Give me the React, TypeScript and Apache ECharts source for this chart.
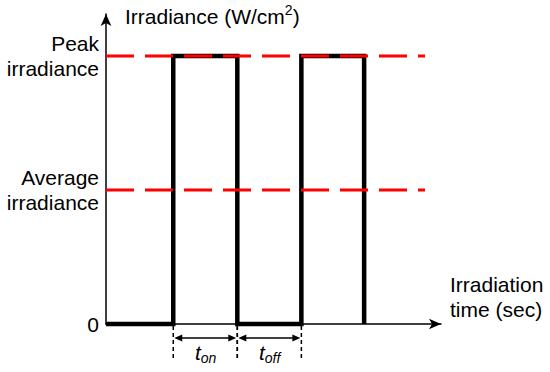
import React, { useEffect, useRef } from "react";
import * as echarts from "echarts";

// Square-wave irradiance (time in arbitrary units, irradiance relative to peak)
const waveTimes = [0, 1.05, 1.05, 2.05, 2.05, 3.05, 3.05, 4.03, 4.03];
const waveValues = [0, 0, 1, 1, 0, 0, 1, 1, 0];

const peakLevel = 1;
const averageLevel = 0.5;
const refLineEnd = 4.98;

const yTickValues = [0, 0.5, 1];
const yTickLabels = ["0", "Average\nirradiance", "Peak\nirradiance"];

// t_on / t_off intervals
const intervalStarts = [1.05, 2.05];
const intervalEnds = [2.05, 3.05];
const intervalSubs = ["on", "off"];

const FONT = "'Liberation Sans', Arial, sans-serif";

export default function App() {
  const ref = useRef<HTMLDivElement>(null);

  useEffect(() => {
    if (!ref.current) return;
    const chart = echarts.init(ref.current, null, { renderer: "svg" });

    const waveData = waveTimes.map((t, i) => [t, waveValues[i]]);
    const intervalData = intervalStarts.map((s, i) => [s, intervalEnds[i], i]);

    chart.setOption({
      animation: false,
      backgroundColor: "#ffffff",
      grid: { left: 106, top: 14, right: 109, bottom: 48, containLabel: false },
      xAxis: {
        type: "value",
        min: 0,
        max: 5.23,
        axisLine: {
          show: true,
          onZero: false,
          symbol: ["none", "arrow"],
          symbolSize: [8, 12],
          lineStyle: { color: "#000", width: 1.5 },
        },
        axisTick: { show: false },
        axisLabel: { show: false },
        splitLine: { show: false },
      },
      yAxis: {
        type: "value",
        min: 0,
        max: 1.157,
        interval: 0.5,
        axisLine: {
          show: true,
          onZero: false,
          symbol: ["none", "arrow"],
          symbolSize: [8, 12],
          lineStyle: { color: "#000", width: 1.5 },
        },
        axisTick: { show: false },
        splitLine: { show: false },
        axisLabel: {
          show: true,
          margin: 7,
          color: "#000",
          fontFamily: FONT,
          fontSize: 21,
          lineHeight: 25,
          align: "right",
          showMaxLabel: false,
          formatter: (v: number) => {
            const idx = yTickValues.findIndex((t) => Math.abs(t - v) < 1e-6);
            return idx >= 0 ? yTickLabels[idx] : "";
          },
        },
      },
      graphic: [
        {
          type: "text",
          left: 125,
          top: 3,
          style: {
            text: "Irradiance (W/cm{sup|2})",
            fill: "#000",
            font: `21px ${FONT}`,
            rich: {
              sup: { fontSize: 14, fontFamily: FONT, padding: [0, 0, 12, 0], fill: "#000" },
            },
          },
        },
        {
          type: "text",
          left: 450,
          top: 272,
          style: {
            text: "Irradiation\ntime (sec)",
            fill: "#000",
            font: `21px ${FONT}`,
            lineHeight: 25,
          },
        },
      ],
      series: [
        {
          type: "line",
          data: waveData,
          symbol: "none",
          clip: false,
          z: 3,
          lineStyle: { color: "#000", width: 4.5, join: "miter", cap: "butt" },
        },
        {
          type: "line",
          data: [
            [0, peakLevel],
            [refLineEnd, peakLevel],
          ],
          symbol: "none",
          clip: false,
          z: 4,
          lineStyle: { color: "#ff0000", width: 3, type: [28, 11] },
        },
        {
          type: "line",
          data: [
            [0, averageLevel],
            [refLineEnd, averageLevel],
          ],
          symbol: "none",
          clip: false,
          z: 4,
          lineStyle: { color: "#ff0000", width: 3, type: [28, 11] },
        },
        {
          type: "custom",
          clip: false,
          z: 5,
          data: intervalData,
          renderItem: (params: any, api: any) => {
            const s = api.value(0);
            const e = api.value(1);
            const idx = api.value(2);
            const p0 = api.coord([s, 0]);
            const p1 = api.coord([e, 0]);
            const y0 = p0[1];
            const ya = y0 + 14;
            const ah = 9;
            const aw = 3.5;
            const cx = (p0[0] + p1[0]) / 2;
            return {
              type: "group",
              children: [
                {
                  type: "line",
                  shape: { x1: p0[0], y1: y0 + 2, x2: p0[0], y2: y0 + 34 },
                  style: { stroke: "#000", lineWidth: 1.5, lineDash: [4, 3] },
                },
                {
                  type: "line",
                  shape: { x1: p1[0], y1: y0 + 2, x2: p1[0], y2: y0 + 34 },
                  style: { stroke: "#000", lineWidth: 1.5, lineDash: [4, 3] },
                },
                {
                  type: "line",
                  shape: { x1: p0[0] + ah - 1, y1: ya, x2: p1[0] - ah + 1, y2: ya },
                  style: { stroke: "#000", lineWidth: 1.5 },
                },
                {
                  type: "polygon",
                  shape: { points: [[p0[0] + 1, ya], [p0[0] + ah, ya - aw], [p0[0] + ah, ya + aw]] },
                  style: { fill: "#000" },
                },
                {
                  type: "polygon",
                  shape: { points: [[p1[0] - 1, ya], [p1[0] - ah, ya - aw], [p1[0] - ah, ya + aw]] },
                  style: { fill: "#000" },
                },
                {
                  type: "text",
                  x: cx - 4.5,
                  y: y0 + 28,
                  style: {
                    text: "t",
                    fill: "#000",
                    font: `italic 21px ${FONT}`,
                    align: "right",
                    verticalAlign: "middle",
                  },
                },
                {
                  type: "text",
                  x: cx - 4.5,
                  y: y0 + 34,
                  style: {
                    text: intervalSubs[idx],
                    fill: "#000",
                    font: `italic 14px ${FONT}`,
                    align: "left",
                    verticalAlign: "middle",
                  },
                },
              ],
            };
          },
        },
      ],
    });

    return () => chart.dispose();
  }, []);

  return (
    <div
      ref={ref}
      style={{ position: "fixed", left: 0, top: 0, width: 550, height: 372 }}
    />
  );
}
